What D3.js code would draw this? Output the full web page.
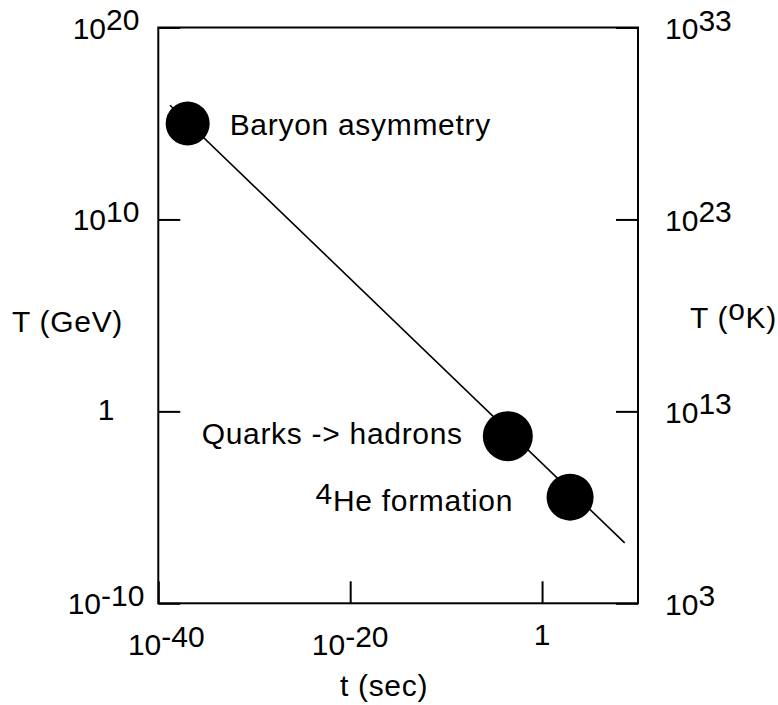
<!DOCTYPE html>
<meta charset="utf-8">
<body style="margin:0">
<style>

body { background: #fff; }

text {
  font-family: "Liberation Sans", Arial, sans-serif;
  font-size: 30px;
  fill: #000;
}

.frame {
  fill: none;
  stroke: #000;
  stroke-width: 2px;
}

.trend {
  fill: none;
  stroke: #000;
  stroke-width: 1.6px;
}

.axis line { stroke: #000; stroke-width: 2px; }
.axis path { display: none; }

.label { letter-spacing: 0.7px; }

</style>
<script src="https://d3js.org/d3.v7.min.js"></script>
<script>

// tick exponents (powers of ten)
var xTickExp = [-40, -20, 0];
var yTickExp = [20, 10, 0, -10];
var kTickExp = [33, 23, 13, 3];

// the T ~ t^-1/2 line, two ends
var lineTime = [1.66e-39, 4.1e8];
var lineTemp = [8.9e15, 1.4e-7];

// events marked on the line
var eventName = ["Baryon asymmetry", "Quarks -> hadrons", "He formation"];
var eventSup = ["", "", "4"];
var eventTime = [1.15e-37, 2.7e-4, 832];
var eventTemp = [1e15, 0.051, 3.4e-5];

var dotR = [22, 25, 23.5];

var svg = d3.select("body").append("svg")
    .attr("width", 778)
    .attr("height", 705);

// plot frame (window.top is read-only, hence the names)
var fL = 158.3, fR = 638, fT = 27.5, fB = 603.3;

var x = d3.scaleLog().domain([1e-40, 1e10]).range([fL, fR]);
var y = d3.scaleLog().domain([1e-10, 1e20]).range([fB, fT]);
var yK = d3.scaleLog().domain([1e3, 1e33]).range([fB, fT]);

// inward ticks, labels drawn by hand because of the superscripts
svg.append("g")
    .attr("class", "axis")
    .attr("transform", "translate(0," + fB + ")")
    .call(d3.axisBottom(x).tickValues(xTickExp.map(function(e) { return Math.pow(10, e); }))
      .tickSize(-22).tickFormat(""));

svg.append("g")
    .attr("class", "axis")
    .attr("transform", "translate(" + fL + ",0)")
    .call(d3.axisLeft(y).tickValues(yTickExp.map(function(e) { return Math.pow(10, e); }))
      .tickSize(-22).tickFormat(""));

svg.append("g")
    .attr("class", "axis")
    .attr("transform", "translate(" + fR + ",0)")
    .call(d3.axisRight(yK).tickValues(kTickExp.map(function(e) { return Math.pow(10, e); }))
      .tickSize(-22).tickFormat(""));

svg.append("rect")
    .attr("class", "frame")
    .attr("x", fL)
    .attr("y", fT)
    .attr("width", fR - fL)
    .attr("height", fB - fT);

// writes "1" or "10" with a raised exponent
function power(sel, e) {
  if (e === 0) { sel.text("1"); return; }
  sel.append("tspan").text("10");
  sel.append("tspan").attr("dy", -8.5).text(e);
}

svg.selectAll(".xlab")
    .data(xTickExp)
  .enter().append("text")
    .attr("class", "xlab")
    .attr("text-anchor", "middle")
    .attr("x", function(d) { return x(Math.pow(10, d)) + (d === -40 ? 8 : 0); })
    .attr("y", function(d) { return d === 0 ? fB + 42 : fB + 52; })
    .each(function(d) { power(d3.select(this), d); });

svg.selectAll(".ylab")
    .data(yTickExp)
  .enter().append("text")
    .attr("class", "ylab")
    .attr("text-anchor", "middle")
    .attr("x", 106)
    .attr("y", function(d) { return y(Math.pow(10, d)) + (d === 0 ? 9 : 11); })
    .each(function(d) { power(d3.select(this), d); });

svg.selectAll(".klab")
    .data(kTickExp)
  .enter().append("text")
    .attr("class", "klab")
    .attr("x", 665)
    .attr("y", function(d) { return yK(Math.pow(10, d)) + 11.5; })
    .each(function(d) { power(d3.select(this), d); });

// axis titles
svg.append("text")
    .attr("class", "label")
    .attr("text-anchor", "middle")
    .attr("x", 384)
    .attr("y", 696)
    .text("t (sec)");

svg.append("text")
    .attr("class", "label")
    .attr("x", 12)
    .attr("y", 331.5)
    .text("T (GeV)");

var kt = svg.append("text")
    .attr("class", "label")
    .attr("x", 690)
    .attr("y", 328);
kt.append("tspan").text("T (");
kt.append("tspan").attr("dy", -8).text("o");
kt.append("tspan").attr("dy", 8).text("K)");

svg.append("path")
    .datum(d3.zip(lineTime, lineTemp))
    .attr("class", "trend")
    .attr("d", d3.line()
      .x(function(d) { return x(d[0]); })
      .y(function(d) { return y(d[1]); }));

var ev = d3.range(eventName.length);

svg.selectAll(".dot")
    .data(ev)
  .enter().append("circle")
    .attr("class", "dot")
    .attr("cx", function(i) { return x(eventTime[i]); })
    .attr("cy", function(i) { return y(eventTemp[i]); })
    .attr("r", function(i) { return dotR[i]; })
    .attr("fill", "#000");

// first label sits right of its dot, the others to the left
var labOff = [[42, 12], [-45, 8], [-57, 14]];

svg.selectAll(".evlab")
    .data(ev)
  .enter().append("text")
    .attr("class", "evlab label")
    .attr("text-anchor", function(i) { return i === 0 ? "start" : "end"; })
    .attr("x", function(i) { return x(eventTime[i]) + labOff[i][0]; })
    .attr("y", function(i) { return y(eventTemp[i]) + labOff[i][1]; })
    .each(function(i) {
      var t = d3.select(this);
      if (eventSup[i]) {
        t.append("tspan").attr("dy", -7).text(eventSup[i]);
        t.append("tspan").attr("dy", 7).text(eventName[i]);
      } else {
        t.text(eventName[i]);
      }
    });

</script>
</body>
</html>
